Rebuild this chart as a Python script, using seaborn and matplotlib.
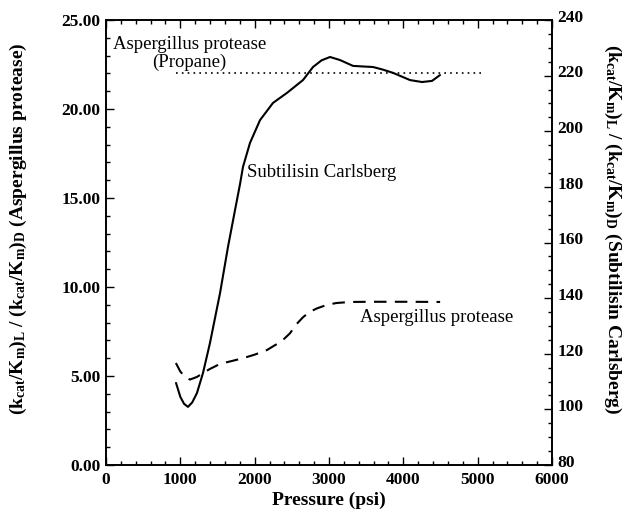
import matplotlib
matplotlib.use("Agg")
import matplotlib.pyplot as plt
import matplotlib.transforms as mtransforms
from matplotlib.ticker import MultipleLocator, FormatStrFormatter
import seaborn as sns
import pandas as pd

# Subtilisin Carlsberg (right axis)
sc_pressure = [942, 1000, 1050, 1103, 1160, 1224, 1305, 1399, 1534, 1641, 1736, 1803,
               1843, 1937, 2072, 2247, 2435, 2650, 2785, 2900, 3014, 3148, 3323, 3450,
               3592, 3720, 3861, 4090, 4251, 4386, 4493]
sc_ratio = [109.5, 104.5, 102, 100.9, 102.5, 105.9, 113.1, 123.9, 141.8, 158.4, 171.7, 181,
            187.2, 195.8, 204, 210.2, 213.8, 218.4, 223.1, 225.5, 226.7, 225.6, 223.5, 223.3,
            223.1, 222.2, 221, 218.4, 217.7, 218.1, 220.2]

# Aspergillus protease (left axis)
ap_pressure = [940, 1000, 1063, 1130, 1225, 1305, 1400, 1534, 1700, 1843, 2000, 2166,
               2300, 2400, 2475, 2560, 2650, 2739, 2839, 2974, 3100, 3284, 3600, 4000, 4495]
ap_ratio = [5.73, 5.25, 4.95, 4.8, 4.95, 5.17, 5.4, 5.68, 5.85, 6.0, 6.2, 6.46,
            6.8, 7.1, 7.4, 7.9, 8.3, 8.6, 8.8, 9.0, 9.1, 9.16, 9.17, 9.17, 9.16]

# Aspergillus protease in propane (left axis, constant)
prop_pressure = [940, 5100]
prop_ratio = [22.0, 22.0]

sns.set_theme(style="ticks")
plt.rcParams['font.family'] = ['Liberation Serif', 'DejaVu Serif']
plt.rcParams['mathtext.fontset'] = 'custom'
plt.rcParams['mathtext.rm'] = 'Liberation Serif'
plt.rcParams['mathtext.bf'] = 'Liberation Serif:bold'
plt.rcParams['mathtext.it'] = 'Liberation Serif:italic'
plt.rcParams['text.color'] = 'black'
plt.rcParams['axes.labelcolor'] = 'black'

fig = plt.figure(figsize=(6.24, 5.12), dpi=100)
ax = fig.add_axes([106/624, 1-465/512, 446/624, 445/512])
ax2 = ax.twinx()

df_ap = pd.DataFrame({"p": ap_pressure, "r": ap_ratio})
df_prop = pd.DataFrame({"p": prop_pressure, "r": prop_ratio})
df_sc = pd.DataFrame({"p": sc_pressure, "r": sc_ratio})

sns.lineplot(data=df_ap, x="p", y="r", ax=ax, color="black", lw=1.5, estimator=None)
ax.lines[-1].set_dashes((6, 4))
sns.lineplot(data=df_prop, x="p", y="r", ax=ax, color="black", lw=1.2, estimator=None)
ax.lines[-1].set_dashes((1, 2.5))
sns.lineplot(data=df_sc, x="p", y="r", ax=ax2, color="black", lw=1.5, estimator=None)
ax2.lines[-1].set_solid_joinstyle('round')

ax.set_xlim(0, 6000)
ax.set_ylim(0, 25)
ax2.set_ylim(80, 240)

ax.xaxis.set_major_locator(MultipleLocator(1000))
ax.xaxis.set_minor_locator(MultipleLocator(200))
ax.yaxis.set_major_locator(MultipleLocator(5))
ax.yaxis.set_minor_locator(MultipleLocator(1))
ax.yaxis.set_major_formatter(FormatStrFormatter('%.2f'))
ax2.yaxis.set_major_locator(MultipleLocator(20))
ax2.yaxis.set_minor_locator(MultipleLocator(5))

for a in (ax, ax2):
    for s in a.spines.values():
        s.set_visible(True)
        s.set_color("black")
        s.set_linewidth(1.2)

ax.tick_params(which='both', direction='in', top=True, bottom=True, left=True, right=False,
               colors='black', labelsize=12.5)
ax.tick_params(which='major', length=6, width=1)
ax.tick_params(which='minor', length=3, width=1)
ax.tick_params(axis='x', pad=5)
ax.tick_params(axis='y', pad=4)
ax2.tick_params(which='both', direction='in', right=True, left=False, colors='black',
                labelsize=12.5, pad=4)
ax2.tick_params(which='major', length=6, width=1)
ax2.tick_params(which='minor', length=3, width=1)
for lbl in ax.get_xticklabels() + ax.get_yticklabels():
    lbl.set_fontweight('bold')
shift_up = mtransforms.ScaledTranslation(0, 3/72, fig.dpi_scale_trans)
for lbl in ax2.get_yticklabels():
    lbl.set_fontweight('bold')
    lbl.set_transform(lbl.get_transform() + shift_up)

ax.set_xlabel("Pressure (psi)", fontsize=14, fontweight='bold', labelpad=3)
ax.set_ylabel(r'$\mathbf{(k_{cat}/K_m)_L\ /\ (k_{cat}/K_m)_D}$ (Aspergillus protease)',
              fontsize=14, fontweight='bold', va='center')
ax.yaxis.set_label_coords(-0.197, 0.53)
ax2.set_ylabel(r'$\mathbf{(k_{cat}/K_m)_L\ /\ (k_{cat}/K_m)_D}$ (Subtilisin Carlsberg)',
               fontsize=14, fontweight='bold', rotation=270, va='center')
ax2.yaxis.set_label_coords(1.135, 0.53)

ax.text(94, 23.6, "Aspergillus protease", fontsize=13.5, ha='left', va='center')
ax.text(1117, 22.6, "(Propane)", fontsize=13.5, ha='center', va='center')
ax.text(1898, 16.46, "Subtilisin Carlsberg", fontsize=13.5, ha='left', va='center')
ax.text(3418, 8.26, "Aspergillus protease", fontsize=13.5, ha='left', va='center')

ax.set_zorder(ax2.get_zorder() + 1)
ax.patch.set_visible(False)

fig.savefig("out.png", dpi=100)
